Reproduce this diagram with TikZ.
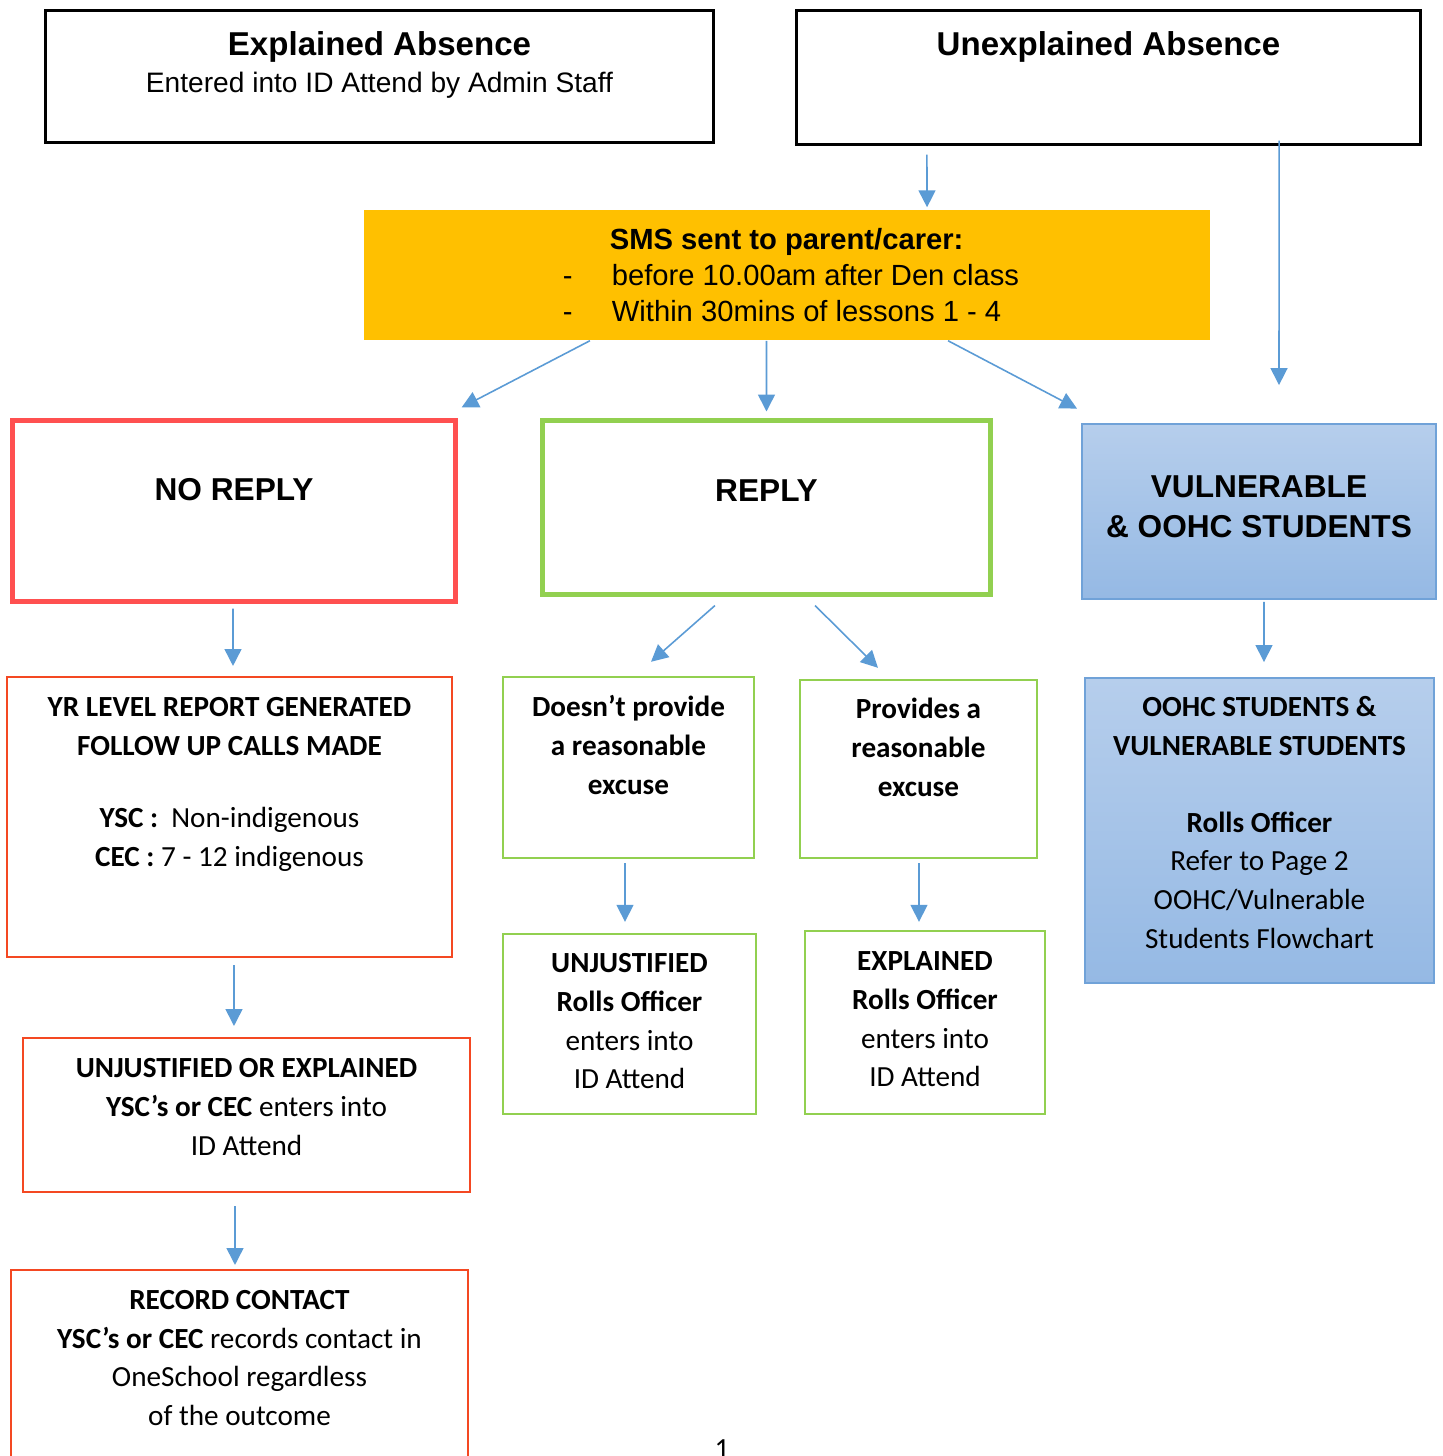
\documentclass[tikz,border=0pt]{standalone}
\usepackage{fontspec}
\setmainfont{Carlito}
\newfontfamily\arialfont{Liberation Sans}
\usetikzlibrary{arrows.meta}
\definecolor{flowblue}{RGB}{91,155,213}
\definecolor{noreplyred}{RGB}{255,80,80}
\definecolor{replygreen}{RGB}{146,208,80}
\definecolor{stepred}{RGB}{244,72,34}
\definecolor{smsgold}{RGB}{255,192,0}
\definecolor{vulnedge}{RGB}{112,162,216}
\definecolor{vulntop}{RGB}{182,206,236}
\definecolor{vulnbottom}{RGB}{149,185,228}
\tikzstyle{absencebox} = [draw=black, line width=0.85pt, rectangle, inner sep=0pt]
\tikzstyle{smsbox} = [fill=smsgold, rectangle, inner sep=0pt]
\tikzstyle{noreplybox} = [draw=noreplyred, line width=1.4pt, rectangle, inner sep=0pt]
\tikzstyle{replybox} = [draw=replygreen, line width=1.4pt, rectangle, inner sep=0pt]
\tikzstyle{vulnbox} = [draw=vulnedge, line width=0.5pt, top color=vulntop,
    bottom color=vulnbottom, rectangle, inner sep=0pt]
\tikzstyle{redstep} = [draw=stepred, line width=0.55pt, rectangle, inner sep=0pt]
\tikzstyle{greenstep} = [draw=replygreen, line width=0.65pt, rectangle, inner sep=0pt]
\tikzstyle{flowarrow} = [draw=flowblue, line width=0.45pt, -{Triangle[length=4.8pt,width=4.8pt]}]
\newcommand{\flowtext}[4][0.40cm]{%
    \begin{minipage}[c][#3][t]{#2}\centering
        \fontsize{8.3}{10.95}\selectfont\rule{0pt}{#1}#4%
    \end{minipage}}

\begin{document}
\begin{tikzpicture}[x=0.01cm, y=-0.01cm]
                \useasboundingbox (0,0) rectangle (1443,1456);
                \clip (0,0) rectangle (1443,1456);
                % top row
                \node [absencebox] (explained) at (379.5,76.5) {\flowtext[0.445cm]{6.67cm}{1.31cm}{%
                    \arialfont\fontsize{8}{10.5}\selectfont
                    {\bfseries\fontsize{9.4}{10.5}\selectfont Explained Absence}\\
                    Entered into ID Attend by Admin Staff}};
                \node [absencebox] (unexplained) at (1108.5,77.5) {\flowtext[0.445cm]{6.23cm}{1.33cm}{%
                    \arialfont\bfseries\fontsize{9.4}{10.5}\selectfont Unexplained Absence}};
                \node [smsbox] (sms) at (787,275) {%
                    \begin{minipage}[c][1.30cm][t]{8.46cm}\raggedright
                        \arialfont\fontsize{8.3}{10.24}\selectfont
                        \rule{0pt}{0.395cm}\hspace*{2.46cm}\textbf{SMS sent to parent/carer:}\\
                        \hspace*{1.99cm}\makebox[0.49cm][l]{-}before 10.00am after Den class\\
                        \hspace*{1.99cm}\makebox[0.49cm][l]{-}Within 30mins of lessons 1 - 4
                    \end{minipage}
                };
                % replies
                \node [noreplybox] (noreply) at (234,511) {\flowtext[0.795cm]{4.43cm}{1.81cm}{%
                    \arialfont\bfseries\fontsize{9}{11}\selectfont NO REPLY}};
                \node [replybox] (reply) at (766.5,507.5) {\flowtext[0.805cm]{4.48cm}{1.74cm}{%
                    \arialfont\bfseries\fontsize{9}{11}\selectfont REPLY}};
                \node [vulnbox] (vuln) at (1259,511.5) {\flowtext[0.73cm]{3.54cm}{1.75cm}{%
                    \arialfont\bfseries\fontsize{9}{11.38}\selectfont VULNERABLE\\\& OOHC STUDENTS}};
                % follow up steps
                \node [redstep] (yrlevel) at (229.5,817) {\flowtext{4.45cm}{2.80cm}{%
                    \textbf{YR LEVEL REPORT GENERATED}\\
                    \textbf{FOLLOW UP CALLS MADE}\\[0.335cm]
                    \textbf{YSC :}\ \ Non-indigenous\\
                    \textbf{CEC :} 7 - 12 indigenous}};
                \node [greenstep] (noexcuse) at (628.5,767.5) {\flowtext{2.51cm}{1.81cm}{%
                    \textbf{Doesn’t provide}\\\textbf{a reasonable}\\\textbf{excuse}}};
                \node [greenstep] (excuse) at (918.5,769) {\flowtext[0.39cm]{2.37cm}{1.78cm}{%
                    \textbf{Provides a}\\\textbf{reasonable}\\\textbf{excuse}}};
                \node [vulnbox] (oohc) at (1259.5,830.5) {\flowtext[0.39cm]{3.49cm}{3.05cm}{%
                    \textbf{OOHC STUDENTS \&}\\\textbf{VULNERABLE STUDENTS}\\[0.385cm]
                    \textbf{Rolls Officer}\\Refer to Page 2\\OOHC/Vulnerable\\Students Flowchart}};
                \node [greenstep] (unjust) at (629.5,1024) {\flowtext[0.39cm]{2.53cm}{1.80cm}{%
                    \textbf{UNJUSTIFIED}\\\textbf{Rolls Officer}\\enters into\\ID Attend}};
                \node [greenstep] (explainedstep) at (925,1022.5) {\flowtext{2.40cm}{1.83cm}{%
                    \textbf{EXPLAINED}\\\textbf{Rolls Officer}\\enters into\\ID Attend}};
                \node [redstep] (unjustorexpl) at (246.5,1115) {\flowtext{4.47cm}{1.54cm}{%
                    \textbf{UNJUSTIFIED OR EXPLAINED}\\
                    \textbf{YSC’s or CEC} enters into\\ID Attend}};
                \node [redstep] (record) at (239.5,1375) {\flowtext{4.57cm}{2.10cm}{%
                    \textbf{RECORD CONTACT}\\
                    \textbf{YSC’s or CEC} records contact in\\
                    OneSchool regardless\\of the outcome}};
                \node [anchor=base, inner sep=0pt] (pagenum) at (722,1458) {\fontsize{8.3}{10}\selectfont 1};
                % arrows
                \draw [flowarrow, shorten <=0.09cm, shorten >=0.02cm] ([xshift=-1.815cm]unexplained.south) -- ([xshift=1.40cm]sms.north);
                \draw [flowarrow, shorten >=0.38cm] ([xshift=1.705cm,yshift=0.05cm]unexplained.south) -- ([xshift=0.20cm]vuln.north);
                \draw [flowarrow] ([xshift=-1.97cm]sms.south) -- ([xshift=0.035cm,yshift=0.105cm]noreply.north east);
                \draw [flowarrow, shorten >=0.065cm] ([xshift=-0.205cm]sms.south) -- (reply.north);
                \draw [flowarrow] ([xshift=1.61cm]sms.south) -- ([xshift=-0.04cm,yshift=0.145cm]vuln.north west);
                \draw [flowarrow, shorten <=0.045cm, shorten >=0.10cm] ([xshift=-0.01cm]noreply.south) -- ([xshift=0.035cm]yrlevel.north);
                \draw [flowarrow] ([xshift=-0.515cm,yshift=-0.085cm]reply.south) -- ([xshift=0.225cm,yshift=0.14cm]noexcuse.north);
                \draw [flowarrow] ([xshift=0.485cm,yshift=-0.085cm]reply.south) -- ([xshift=-0.405cm,yshift=0.11cm]excuse.north);
                \draw [flowarrow, shorten <=0.02cm, shorten >=0.15cm] ([xshift=0.05cm]vuln.south) -- ([xshift=0.045cm]oohc.north);
                \draw [flowarrow, shorten <=0.04cm, shorten >=0.11cm] ([xshift=-0.035cm]noexcuse.south) -- ([xshift=-0.045cm]unjust.north);
                \draw [flowarrow, shorten <=0.04cm, shorten >=0.08cm] ([xshift=0.005cm]excuse.south) -- ([xshift=-0.06cm]explainedstep.north);
                \draw [flowarrow, shorten <=0.07cm, shorten >=0.11cm] ([xshift=0.045cm]yrlevel.south) -- ([xshift=-0.125cm]unjustorexpl.north);
                \draw [flowarrow, shorten <=0.13cm, shorten >=0.04cm] ([xshift=-0.115cm]unjustorexpl.south) -- ([xshift=-0.045cm]record.north);
\end{tikzpicture}
\end{document}
